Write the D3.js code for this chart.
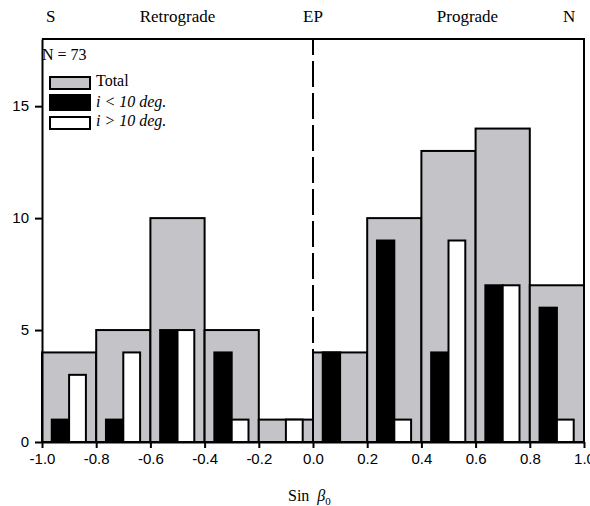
<!DOCTYPE html>
<html>
<head>
<meta charset="utf-8">
<script src="https://cdn.jsdelivr.net/npm/d3@7"></script>
<style>
  html, body { margin: 0; padding: 0; background: #fff; }
  svg { display: block; }
</style>
</head>
<body>
<svg id="chart" width="590" height="506"></svg>
<script>
// Histogram of sin(beta0): bins of width 0.2 from -1 to 1
const binStarts = [-1.0, -0.8, -0.6, -0.4, -0.2, 0.0, 0.2, 0.4, 0.6, 0.8];
const totalCounts = [4, 5, 10, 5, 1, 4, 10, 13, 14, 7];
const lowIncCounts = [1, 1, 5, 4, 0, 4, 9, 4, 7, 6];   // i < 10 deg.
const highIncCounts = [3, 4, 5, 1, 1, 0, 1, 9, 7, 1];  // i > 10 deg.
const binWidth = 0.2;
const xTicks = [-1.0, -0.8, -0.6, -0.4, -0.2, 0.0, 0.2, 0.4, 0.6, 0.8, 1.0];
const yTicks = [0, 5, 10, 15];
const topLabels = [
  { text: "S", at: -0.985, anchor: "start" },
  { text: "Retrograde", at: -0.5, anchor: "middle" },
  { text: "EP", at: 0.0, anchor: "middle" },
  { text: "Prograde", at: 0.57, anchor: "middle" },
  { text: "N", at: 0.945, anchor: "middle" }
];
const sampleSize = 73;

const GRAY = "#c4c3c8";
const SERIF = "'Liberation Serif', 'Times New Roman', serif";
const SANS = "'Liberation Sans', Arial, sans-serif";

const svg = d3.select("#chart");
const margin = { top: 39, right: 6, bottom: 64, left: 42 };
const W = 590, H = 506;

const x = d3.scaleLinear().domain([-1, 1]).range([margin.left, W - margin.right]);
const y = d3.scaleLinear().domain([0, 18]).range([H - margin.bottom, margin.top]);

// dashed equator line at sin(beta0) = 0, drawn beneath the bars
svg.append("line")
  .attr("x1", x(0)).attr("x2", x(0))
  .attr("y1", y(18)).attr("y2", y(0))
  .attr("stroke", "#000").attr("stroke-width", 2)
  .attr("stroke-dasharray", "26,6")
  .attr("stroke-dashoffset", 10);

const bins = binStarts.map((s, i) => ({
  start: s, total: totalCounts[i], low: lowIncCounts[i], high: highIncCounts[i]
}));

// total counts (gray, full bin width)
svg.append("g").selectAll("rect")
  .data(bins).join("rect")
  .attr("x", d => x(d.start))
  .attr("width", d => x(d.start + binWidth) - x(d.start))
  .attr("y", d => y(d.total))
  .attr("height", d => y(0) - y(d.total))
  .attr("fill", GRAY).attr("stroke", "#000").attr("stroke-width", 2);

// low-inclination (black) and high-inclination (white) sub-bars
const lowOff = [0.18, 0.50], highOff = [0.50, 0.81];
svg.append("g").selectAll("rect")
  .data(bins.filter(d => d.low > 0)).join("rect")
  .attr("x", d => x(d.start + binWidth * lowOff[0]))
  .attr("width", d => x(d.start + binWidth * lowOff[1]) - x(d.start + binWidth * lowOff[0]))
  .attr("y", d => y(d.low))
  .attr("height", d => y(0) - y(d.low))
  .attr("fill", "#000").attr("stroke", "#000").attr("stroke-width", 2);

svg.append("g").selectAll("rect")
  .data(bins.filter(d => d.high > 0)).join("rect")
  .attr("x", d => x(d.start + binWidth * highOff[0]))
  .attr("width", d => x(d.start + binWidth * highOff[1]) - x(d.start + binWidth * highOff[0]))
  .attr("y", d => y(d.high))
  .attr("height", d => y(0) - y(d.high))
  .attr("fill", "#fff").attr("stroke", "#000").attr("stroke-width", 2);

// frame: top and right edges
svg.append("path")
  .attr("d", `M${x(-1)},${y(18)}H${x(1)}V${y(0)}`)
  .attr("fill", "none").attr("stroke", "#000").attr("stroke-width", 2);

// axes
const xAxis = svg.append("g")
  .attr("transform", `translate(0,${y(0)})`)
  .call(d3.axisBottom(x).tickValues(xTicks).tickFormat(d3.format(".1f")).tickSize(6).tickSizeOuter(0));
const yAxis = svg.append("g")
  .attr("transform", `translate(${x(-1)},0)`)
  .call(d3.axisLeft(y).tickValues(yTicks).tickSize(7).tickSizeOuter(0));

[xAxis, yAxis].forEach(g => {
  g.select(".domain").attr("stroke-width", 2);
  g.selectAll(".tick line").attr("stroke-width", 2);
  g.selectAll("text").attr("font-family", SANS).attr("font-size", 15).attr("fill", "#000");
});
xAxis.selectAll("text").text(d => d3.format(".1f")(d).replace("−", "-")).attr("dy", "0.85em");
yAxis.selectAll("text").attr("x", -13);

// labels along the top
svg.append("g").selectAll("text")
  .data(topLabels).join("text")
  .attr("x", d => x(d.at))
  .attr("y", 22)
  .attr("text-anchor", d => d.anchor)
  .attr("font-family", SERIF).attr("font-size", 17)
  .text(d => d.text);

// sample size
svg.append("text")
  .attr("x", x(-1)).attr("y", 60)
  .attr("font-family", SERIF).attr("font-size", 16)
  .text(`N = ${sampleSize}`);

// legend
const legend = [
  { label: "Total", fill: GRAY, y0: 77, h: 12, italic: false },
  { label: "i < 10 deg.", fill: "#000", y0: 95, h: 15, italic: true },
  { label: "i > 10 deg.", fill: "#fff", y0: 117, h: 12, italic: true }
];
const lg = svg.append("g");
lg.selectAll("rect").data(legend).join("rect")
  .attr("x", 50).attr("width", 40)
  .attr("y", d => d.y0).attr("height", d => d.h)
  .attr("fill", d => d.fill).attr("stroke", "#000").attr("stroke-width", 2);
lg.selectAll("text").data(legend).join("text")
  .attr("x", 96)
  .attr("y", d => d.y0 + d.h - 3)
  .attr("font-family", SERIF).attr("font-size", 16)
  .attr("font-style", d => d.italic ? "italic" : "normal")
  .text(d => d.label);

// x-axis title: Sin beta_0
const title = svg.append("text")
  .attr("x", 288).attr("y", 501)
  .attr("font-family", SERIF).attr("font-size", 16);
title.append("tspan").text("Sin ");
title.append("tspan").attr("dx", 4).attr("font-style", "italic").text("β");
title.append("tspan").attr("dy", 4).attr("font-size", 11).text("0");
</script>
</body>
</html>
